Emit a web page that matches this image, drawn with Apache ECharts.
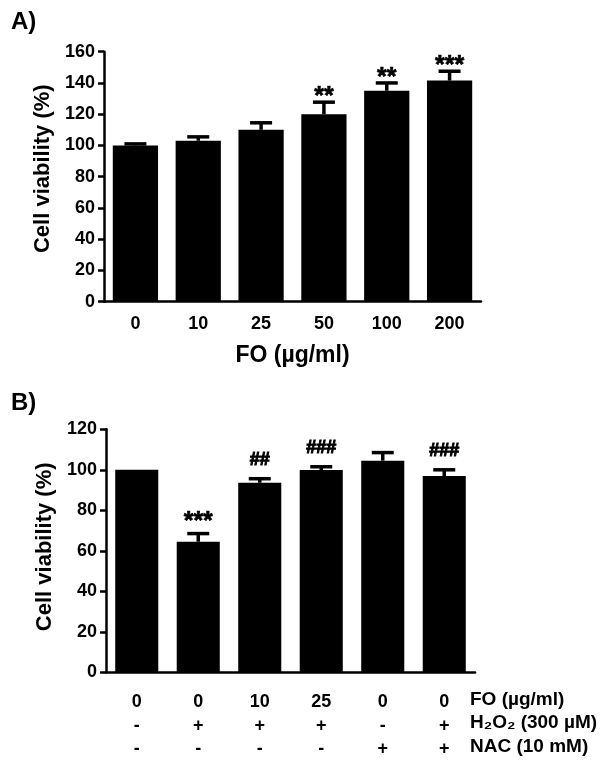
<!DOCTYPE html>
<html>
<head>
<meta charset="utf-8">
<script src="https://cdn.jsdelivr.net/npm/echarts@6/dist/echarts.min.js"></script>
<style>
html,body{margin:0;padding:0;background:#fff;}
#chart{width:606px;height:766px;}
</style>
</head>
<body>
<div id="chart"></div>
<script>
// ---- Panel A data ----
const catsA = ['0', '10', '25', '50', '100', '200'];
const valuesA = [100, 103, 110, 120, 135, 141.5];
const errorsA = [1, 2.5, 4.5, 7.7, 5, 6];
const sigA = ['', '', '', '**', '**', '***'];
const yTicksA = { min: 0, max: 160, interval: 20 };

// ---- Panel B data ----
const foDoseB = ['0', '0', '10', '25', '0', '0'];
const h2o2B = ['-', '+', '+', '+', '-', '+'];
const nacB = ['-', '-', '-', '-', '+', '+'];
const valuesB = [100, 64.5, 93.6, 99.9, 104.5, 96.9];
const errorsB = [0, 4, 2, 1.6, 4, 3.1];
const sigB = ['', '***', '##', '###', '', '###'];
const yTicksB = { min: 0, max: 120, interval: 20 };
const rowLabelsB = ['FO (\u00b5g/ml)', 'H\u2082O\u2082 (300 \u00b5M)', 'NAC (10 mM)'];

const FONT = '"Liberation Sans", Arial, Helvetica, sans-serif';
const catsB = foDoseB.map((f, i) => f + '\n' + h2o2B[i] + '\n' + nacB[i]);

const chart = echarts.init(document.getElementById('chart'), null, { renderer: 'canvas' });

function makeErr(sig, gap) {
  return function (params, api) {
    const i = api.value(0);
    const v = api.value(1);
    const e = api.value(2);
    const base = api.coord([i, v]);
    const top = api.coord([i, v + e]);
    const children = [];
    if (e > 0) {
      children.push({
        type: 'line',
        shape: { x1: base[0], y1: base[1], x2: top[0], y2: top[1] },
        style: { stroke: '#000', lineWidth: 3.5 }
      });
      children.push({
        type: 'line',
        shape: { x1: top[0] - 11, y1: top[1], x2: top[0] + 11, y2: top[1] },
        style: { stroke: '#000', lineWidth: 3.5 }
      });
    }
    const s = sig[params.dataIndex];
    if (s) {
      const isStar = s.indexOf('*') >= 0;
      children.push({
        type: 'text',
        x: top[0],
        y: top[1] - gap + (isStar ? 8 : 0),
        style: {
          text: s,
          fill: '#000',
          stroke: '#000',
          lineWidth: isStar ? 0.6 : 1,
          font: 'bold ' + (isStar ? 25 : 18) + 'px ' + FONT,
          textAlign: 'center',
          textVerticalAlign: 'middle'
        }
      });
    }
    return { type: 'group', children: children };
  };
}

const axisLineStyle = { color: '#000', width: 2.5 };
const labelStyle = { color: '#000', fontFamily: FONT, fontWeight: 'bold', fontSize: 18 };

const option = {
  animation: false,
  backgroundColor: '#fff',
  grid: [
    { left: 104, top: 51.7, width: 377, height: 250 },
    { left: 106, top: 429.3, width: 369, height: 243 }
  ],
  xAxis: [
    {
      type: 'category', gridIndex: 0, data: catsA,
      axisLine: { lineStyle: axisLineStyle },
      axisTick: { alignWithLabel: true, length: 6, lineStyle: axisLineStyle },
      axisLabel: Object.assign({ margin: 13 }, labelStyle),
      name: 'FO (\u00b5g/ml)', nameLocation: 'middle', nameGap: 42,
      nameTextStyle: { color: '#000', fontFamily: FONT, fontWeight: 'bold', fontSize: 23 }
    },
    {
      type: 'category', gridIndex: 1, data: catsB,
      axisLine: { lineStyle: axisLineStyle },
      axisTick: { alignWithLabel: true, length: 6, lineStyle: axisLineStyle },
      axisLabel: Object.assign({ margin: 18, lineHeight: 23.5, interval: 0 }, labelStyle)
    }
  ],
  yAxis: [
    {
      type: 'value', gridIndex: 0, min: yTicksA.min, max: yTicksA.max, interval: yTicksA.interval,
      splitLine: { show: false },
      axisLine: { show: true, lineStyle: axisLineStyle },
      axisTick: { show: true, length: 6, lineStyle: axisLineStyle },
      axisLabel: Object.assign({ margin: 9 }, labelStyle),
      name: 'Cell viability (%)', nameLocation: 'middle', nameGap: 46,
      nameTextStyle: { color: '#000', fontFamily: FONT, fontWeight: 'bold', fontSize: 22, padding: [0, 0, 0, 16] }
    },
    {
      type: 'value', gridIndex: 1, min: yTicksB.min, max: yTicksB.max, interval: yTicksB.interval,
      splitLine: { show: false },
      axisLine: { show: true, lineStyle: axisLineStyle },
      axisTick: { show: true, length: 6, lineStyle: axisLineStyle },
      axisLabel: Object.assign({ margin: 9 }, labelStyle),
      name: 'Cell viability (%)', nameLocation: 'middle', nameGap: 48,
      nameTextStyle: { color: '#000', fontFamily: FONT, fontWeight: 'bold', fontSize: 22, padding: [0, 0, 0, 8] }
    }
  ],
  series: [
    {
      type: 'bar', xAxisIndex: 0, yAxisIndex: 0, data: valuesA, barWidth: '72%',
      itemStyle: { color: '#000' }
    },
    {
      type: 'custom', xAxisIndex: 0, yAxisIndex: 0,
      data: valuesA.map((v, i) => [i, v, errorsA[i]]),
      renderItem: makeErr(sigA, 13), z: 5
    },
    {
      type: 'bar', xAxisIndex: 1, yAxisIndex: 1, data: valuesB, barWidth: '70%',
      itemStyle: { color: '#000' }
    },
    {
      type: 'custom', xAxisIndex: 1, yAxisIndex: 1,
      data: valuesB.map((v, i) => [i, v, errorsB[i]]),
      renderItem: makeErr(sigB, 19), z: 5
    }
  ],
  graphic: [
    { type: 'text', left: 11, top: 10, style: { text: 'A)', fill: '#000', font: 'bold 24px ' + FONT } },
    { type: 'text', left: 11, top: 391, style: { text: 'B)', fill: '#000', font: 'bold 24px ' + FONT } }
  ].concat(rowLabelsB.map((t, k) => ({
    type: 'text', left: 470, top: 690 + k * 23.5,
    style: { text: t, fill: '#000', font: 'bold 19px ' + FONT }
  })))
};
chart.setOption(option);
</script>
</body>
</html>
